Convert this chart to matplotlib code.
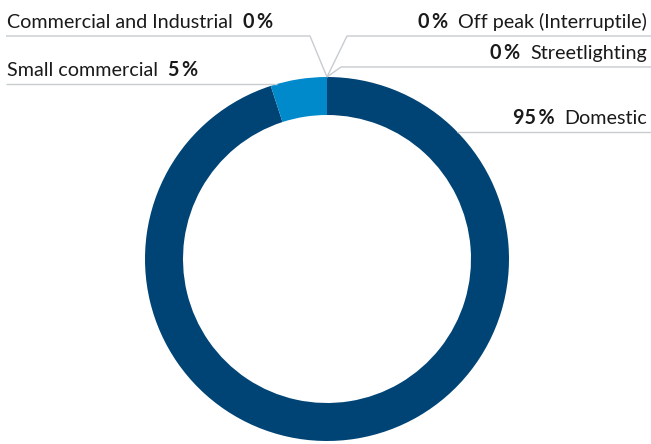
import numpy as np
import matplotlib.pyplot as plt

plt.rcParams['font.family'] = ['Lato', 'DejaVu Sans']

categories = ['Domestic', 'Small commercial', 'Commercial and Industrial',
              'Off peak (Interruptile)', 'Streetlighting']
shares = [95, 5, 0, 0, 0]
colors = ['#004476', '#0089cb', '#0089cb', '#0089cb', '#0089cb']

W, H = 651, 444
cx, cy = 327, H - 259
R, ring = 182, 38
line_col = '#c8ccd0'
fs = 14.2

fig = plt.figure(figsize=(W / 100, H / 100), dpi=100)
ax = fig.add_axes([0, 0, 1, 1])

ax.pie(shares, colors=colors, startangle=90, counterclock=False,
       center=(cx, cy), radius=R, frame=True,
       wedgeprops=dict(width=ring, linewidth=0))
ax.set_xlim(0, W)
ax.set_ylim(0, H)
ax.set_aspect('equal')
ax.axis('off')

top = (cx, cy + R)

# label layout: (side, line y in px from top, elbow x or None)
layout = {
    'Domestic': ('right', 132, None),
    'Small commercial': ('left', 84, None),
    'Commercial and Industrial': ('left', 36, 310),
    'Off peak (Interruptile)': ('right', 36, 347),
    'Streetlighting': ('right', 67, 341),
}

fig.canvas.draw()
renderer = fig.canvas.get_renderer()
inv = ax.transData.inverted()

for name, val in zip(categories, shares):
    side, ly, elbow = layout[name]
    y = H - ly
    if elbow is None:
        dx = np.sqrt(R ** 2 - (y - cy) ** 2)
        xe = cx - dx if side == 'left' else cx + dx
        pts = [(6 if side == 'left' else W, y), (xe, y)]
    else:
        pts = [(6 if side == 'left' else W, y), (elbow, y), top]
    xs, ys = zip(*pts)
    ax.plot(xs, ys, color=line_col, lw=1, solid_capstyle='butt', zorder=1)

    pct = f'{val}\u2009%'
    ty = y + 7.5
    if side == 'left':
        t = ax.text(7, ty, name, fontsize=fs, ha='left', va='baseline',
                    color='#1a1a1a')
        bb = t.get_window_extent(renderer)
        x1 = inv.transform((bb.x1, 0))[0]
        ax.text(x1 + 10, ty, pct, fontsize=fs, fontweight='bold',
                ha='left', va='baseline', color='#1a1a1a')
    else:
        t = ax.text(647, ty, name, fontsize=fs, ha='right', va='baseline',
                    color='#1a1a1a')
        bb = t.get_window_extent(renderer)
        x0 = inv.transform((bb.x0, 0))[0]
        ax.text(x0 - 10, ty, pct, fontsize=fs, fontweight='bold',
                ha='right', va='baseline', color='#1a1a1a')

fig.savefig('out.png', dpi=100)
